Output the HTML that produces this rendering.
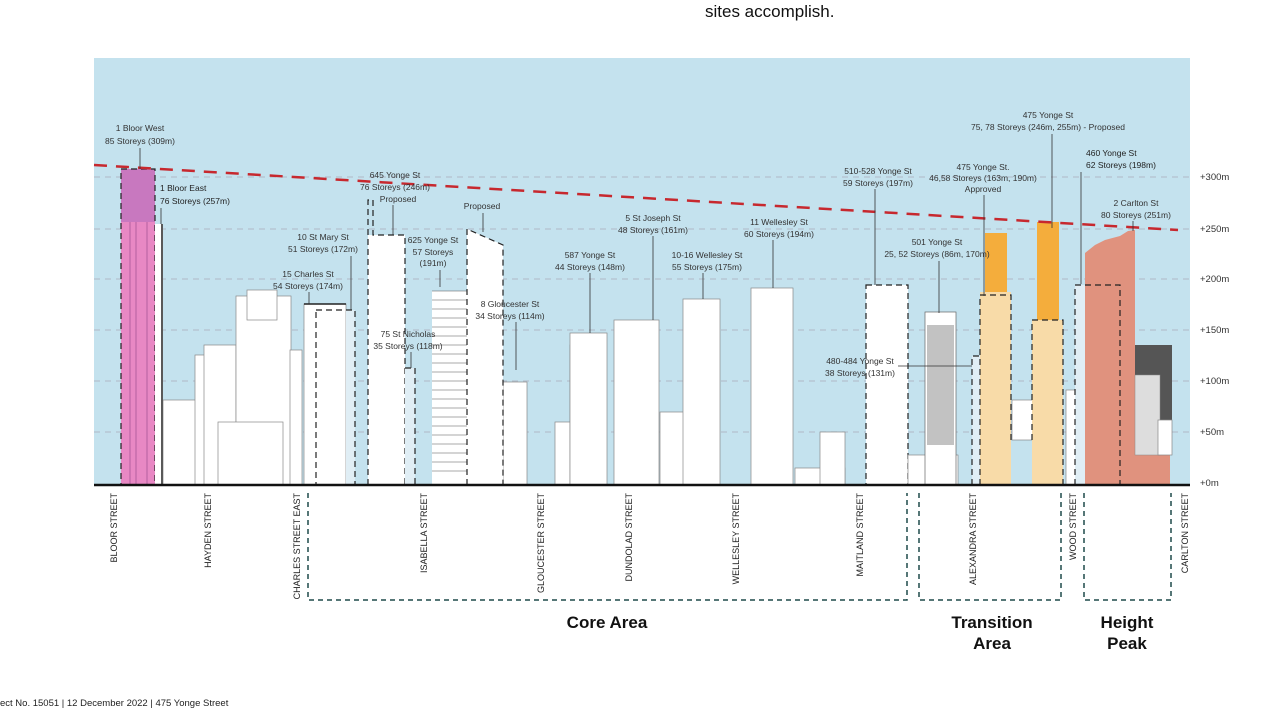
<!DOCTYPE html>
<html><head><meta charset="utf-8"><style>
html,body{margin:0;padding:0;background:#fff;width:1280px;height:711px;overflow:hidden}
svg{display:block;font-family:"Liberation Sans",sans-serif}
.l{font-size:8.5px;fill:#333;text-anchor:middle}
.s{font-size:8.5px;fill:#222}
.ax{font-size:9.5px;fill:#333}
.b{fill:#fff;stroke:#888;stroke-width:0.7}
.d{fill:none;stroke:#222;stroke-width:1.2;stroke-dasharray:6,4}
.ld{stroke:#333;stroke-width:0.8}
</style></head><body>
<svg width="1280" height="711" viewBox="0 0 1280 711">
<text x="705" y="17" font-size="17" fill="#111">sites accomplish.</text>
<rect x="94" y="58" width="1096" height="427" fill="#c4e2ee"/>
<g stroke="#aab" stroke-width="0.8" stroke-dasharray="6,5">
<line x1="94" y1="177" x2="1190" y2="177"/><line x1="94" y1="229" x2="1190" y2="229"/>
<line x1="94" y1="279" x2="1190" y2="279"/><line x1="94" y1="330" x2="1190" y2="330"/>
<line x1="94" y1="381" x2="1190" y2="381"/><line x1="94" y1="432" x2="1190" y2="432"/>
</g>
<g class="ax">
<text x="1200" y="180">+300m</text><text x="1200" y="232">+250m</text><text x="1200" y="282">+200m</text>
<text x="1200" y="333">+150m</text><text x="1200" y="384">+100m</text><text x="1200" y="435">+50m</text>
<text x="1200" y="486">+0m</text></g>
<!-- background buildings -->
<rect class="b" x="163" y="400" width="35" height="85"/>
<rect class="b" x="195" y="355" width="18" height="130"/>
<rect class="b" x="204" y="345" width="32" height="140"/>
<rect class="b" x="236" y="296" width="55" height="189"/>
<rect class="b" x="247" y="290" width="30" height="30"/>
<rect class="b" x="218" y="422" width="65" height="63"/>
<rect class="b" x="290" y="350" width="12" height="135"/>
<rect class="b" x="555" y="422" width="25" height="63"/>
<rect class="b" x="570" y="345" width="30" height="140"/>
<rect class="b" x="660" y="412" width="25" height="73"/>
<rect class="b" x="795" y="468" width="50" height="17"/>
<rect class="b" x="820" y="432" width="25" height="53"/>
<rect class="b" x="527" y="382" width="0" height="0"/>
<rect class="b" x="503" y="382" width="24" height="103"/>
<!-- main buildings -->
<rect x="121" y="169" width="34" height="53" fill="#c878bf"/>
<rect x="121" y="222" width="34" height="263" fill="#e888c4"/>
<g stroke="#a05090" stroke-width="0.7"><line x1="130" y1="222" x2="130" y2="485"/><line x1="136" y1="222" x2="136" y2="485"/><line x1="147" y1="222" x2="147" y2="485"/></g>
<rect class="d" x="121" y="169" width="34" height="316"/>
<rect x="155" y="224" width="8" height="261" fill="#fff"/><line x1="162" y1="224" x2="162" y2="485" stroke="#222" stroke-width="1.5"/>
<rect class="b" x="304" y="304" width="42" height="181"/>
<line x1="304" y1="304" x2="346" y2="304" stroke="#222" stroke-width="1.5"/>
<rect x="346" y="310" width="9" height="175" fill="#e0eef5"/>
<rect class="d" x="316" y="310" width="39" height="175"/>
<rect x="368" y="235" width="37" height="250" fill="#fff"/>
<polyline class="d" points="368,485 368,200 373,200 373,235 405,235 405,485"/>
<rect x="405" y="368" width="10" height="117" fill="#e0eef5"/><polyline class="d" points="405,368 415,368 415,485"/>
<rect x="432" y="291" width="36" height="194" fill="#fff"/>
<g stroke="#555" stroke-width="0.6">
<line x1="432" y1="291" x2="468" y2="291"/><line x1="432" y1="300" x2="468" y2="300"/><line x1="432" y1="309" x2="468" y2="309"/><line x1="432" y1="318" x2="468" y2="318"/><line x1="432" y1="327" x2="468" y2="327"/><line x1="432" y1="336" x2="468" y2="336"/><line x1="432" y1="345" x2="468" y2="345"/><line x1="432" y1="354" x2="468" y2="354"/><line x1="432" y1="363" x2="468" y2="363"/><line x1="432" y1="372" x2="468" y2="372"/><line x1="432" y1="381" x2="468" y2="381"/><line x1="432" y1="390" x2="468" y2="390"/><line x1="432" y1="399" x2="468" y2="399"/><line x1="432" y1="408" x2="468" y2="408"/><line x1="432" y1="417" x2="468" y2="417"/><line x1="432" y1="426" x2="468" y2="426"/><line x1="432" y1="435" x2="468" y2="435"/><line x1="432" y1="444" x2="468" y2="444"/><line x1="432" y1="453" x2="468" y2="453"/><line x1="432" y1="462" x2="468" y2="462"/><line x1="432" y1="471" x2="468" y2="471"/></g>
<polygon points="467,229 503,245 503,485 467,485" fill="#fff"/>
<polyline class="d" points="467,485 467,229 503,245 503,485"/>
<rect class="b" x="570" y="333" width="37" height="152"/>
<rect class="b" x="614" y="320" width="45" height="165"/>
<rect class="b" x="683" y="299" width="37" height="186"/>
<rect class="b" x="751" y="288" width="42" height="197"/>
<rect x="866" y="285" width="42" height="200" fill="#fff"/><rect class="d" x="866" y="285" width="42" height="200"/>
<rect class="b" x="908" y="455" width="50" height="30"/>
<rect x="925" y="312" width="31" height="173" fill="#fff" stroke="#666" stroke-width="0.7"/>
<rect x="927" y="325" width="27" height="120" fill="#999" opacity="0.6"/>
<rect x="972" y="356" width="10" height="129" fill="#e0eef5"/><polyline class="d" points="972,485 972,356 982,356"/>
<rect x="980" y="292" width="31" height="193" fill="#f8dba8"/>
<rect x="985" y="233" width="22" height="59" fill="#f4ad3c"/>
<polyline class="d" points="980,485 980,295 1011,295 1011,440"/>
<rect class="b" x="1012" y="400" width="22" height="40"/>
<rect x="1032" y="320" width="31" height="165" fill="#f8dba8"/>
<rect x="1037" y="222" width="22" height="98" fill="#f4ad3c"/>
<polyline class="d" points="1032,440 1032,320 1063,320 1063,485"/>
<rect class="b" x="1066" y="390" width="20" height="95"/>
<rect x="1075" y="285" width="12" height="200" fill="#e0eef5"/>
<polygon points="1085,485 1085,253 1095,245 1105,240 1120,236 1128,231 1135,230 1135,485" fill="#e0927e"/>
<rect x="1135" y="455" width="35" height="30" fill="#e0927e"/>
<polyline class="d" points="1075,485 1075,285 1120,285 1120,485"/>
<rect x="1135" y="345" width="37" height="80" fill="#555"/>
<rect x="1135" y="375" width="25" height="80" fill="#ddd" stroke="#888" stroke-width="0.5"/>
<rect class="b" x="1158" y="420" width="14" height="35"/>
<!-- red dashed line -->
<line x1="94" y1="165" x2="1178" y2="230" stroke="#c7282e" stroke-width="2.5" stroke-dasharray="13,9"/>
<line x1="94" y1="485" x2="1190" y2="485" stroke="#111" stroke-width="2.5"/>
<!-- labels -->
<g class="l">
<text x="140" y="131">1 Bloor West</text><text x="140" y="144">85 Storeys (309m)</text>
<text x="395" y="178">645 Yonge St</text><text x="395" y="190">76 Storeys (246m)</text><text x="398" y="202">Proposed</text>
<text x="482" y="209">Proposed</text>
<text x="323" y="240">10 St Mary St</text><text x="323" y="252">51 Storeys (172m)</text>
<text x="433" y="243">625 Yonge St</text><text x="433" y="255">57 Storeys</text><text x="433" y="266">(191m)</text>
<text x="308" y="277">15 Charles St</text><text x="308" y="289">54 Storeys (174m)</text>
<text x="510" y="307">8 Gloucester St</text><text x="510" y="319">34 Storeys (114m)</text>
<text x="408" y="337">75 St Nicholas</text><text x="408" y="349">35 Storeys (118m)</text>
<text x="590" y="258">587 Yonge St</text><text x="590" y="270">44 Storeys (148m)</text>
<text x="653" y="221">5 St Joseph St</text><text x="653" y="233">48 Storeys (161m)</text>
<text x="707" y="258">10-16 Wellesley St</text><text x="707" y="270">55 Storeys (175m)</text>
<text x="779" y="225">11 Wellesley St</text><text x="779" y="237">60 Storeys (194m)</text>
<text x="878" y="174">510-528 Yonge St</text><text x="878" y="186">59 Storeys (197m)</text>
<text x="983" y="170">475 Yonge St.</text><text x="983" y="181">46,58 Storeys (163m, 190m)</text><text x="983" y="192">Approved</text>
<text x="1048" y="118">475 Yonge St</text><text x="1048" y="130">75, 78 Storeys (246m, 255m) - Proposed</text>
<text x="1136" y="206">2 Carlton St</text><text x="1136" y="218">80 Storeys (251m)</text>
<text x="937" y="245">501 Yonge St</text><text x="937" y="257">25, 52 Storeys (86m, 170m)</text>
<text x="860" y="364">480-484 Yonge St</text><text x="860" y="376">38 Storeys (131m)</text>
</g>
<g class="s"><text x="160" y="191">1 Bloor East</text><text x="160" y="204">76 Storeys (257m)</text>
<text x="1086" y="156">460 Yonge St</text><text x="1086" y="168">62 Storeys (198m)</text></g>
<g class="ld">
<line x1="140" y1="148" x2="140" y2="169"/><line x1="161" y1="208" x2="161" y2="224"/>
<line x1="393" y1="205" x2="393" y2="235"/><line x1="483" y1="213" x2="483" y2="232"/>
<line x1="351" y1="256" x2="351" y2="310"/><line x1="440" y1="270" x2="440" y2="287"/>
<line x1="309" y1="292" x2="309" y2="304"/><line x1="516" y1="322" x2="516" y2="370"/>
<line x1="411" y1="352" x2="411" y2="368"/><line x1="590" y1="273" x2="590" y2="333"/>
<line x1="653" y1="236" x2="653" y2="320"/><line x1="703" y1="273" x2="703" y2="299"/>
<line x1="773" y1="240" x2="773" y2="288"/><line x1="875" y1="189" x2="875" y2="285"/>
<line x1="984" y1="195" x2="984" y2="296"/><line x1="1052" y1="134" x2="1052" y2="228"/>
<line x1="1081" y1="172" x2="1081" y2="284"/><line x1="939" y1="261" x2="939" y2="313"/>
<line x1="898" y1="366" x2="972" y2="366"/><line x1="1133" y1="221" x2="1133" y2="231"/>
</g>
<!-- street labels -->
<g font-size="9" fill="#222" text-anchor="end">
<text transform="translate(117,493) rotate(-90)">BLOOR STREET</text>
<text transform="translate(211,493) rotate(-90)">HAYDEN STREET</text>
<text transform="translate(300,493) rotate(-90)">CHARLES STREET EAST</text>
<text transform="translate(427,493) rotate(-90)">ISABELLA STREET</text>
<text transform="translate(544,493) rotate(-90)">GLOUCESTER STREET</text>
<text transform="translate(632,493) rotate(-90)">DUNDOLAD STREET</text>
<text transform="translate(739,493) rotate(-90)">WELLESLEY STREET</text>
<text transform="translate(863,493) rotate(-90)">MAITLAND STREET</text>
<text transform="translate(976,493) rotate(-90)">ALEXANDRA STREET</text>
<text transform="translate(1076,493) rotate(-90)">WOOD STREET</text>
<text transform="translate(1188,493) rotate(-90)">CARLTON STREET</text>
</g>
<g fill="none" stroke="#1e4a4a" stroke-width="1.5" stroke-dasharray="5,4">
<polyline points="308,493 308,600 907,600 907,493"/>
<polyline points="919,493 919,600 1061,600 1061,493"/>
<polyline points="1084,493 1084,600 1171,600 1171,493"/>
</g>
<g font-size="17" font-weight="bold" fill="#111" text-anchor="middle">
<text x="607" y="628">Core Area</text>
<text x="992" y="628">Transition</text><text x="992" y="649">Area</text>
<text x="1127" y="628">Height</text><text x="1127" y="649">Peak</text>
</g>
<text x="0" y="706" font-size="9.5" fill="#222">ect No. 15051 | 12 December 2022 | 475 Yonge Street</text>
</svg>
</body></html>
